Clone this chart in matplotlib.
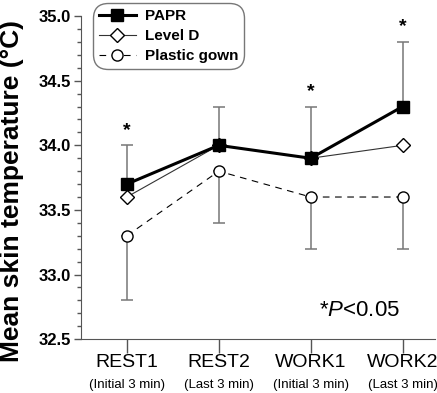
import numpy as np
import matplotlib.pyplot as plt
from matplotlib.ticker import MultipleLocator
import matplotlib.transforms as mtransforms

plt.rcParams["font.family"] = ["Liberation Sans", "DejaVu Sans"]
plt.rcParams["mathtext.fontset"] = "custom"
plt.rcParams["mathtext.it"] = "Liberation Sans:italic"
plt.rcParams["mathtext.rm"] = "Liberation Sans"

phases = ["REST1", "REST2", "WORK1", "WORK2"]
sub_labels = ["(Initial 3 min)", "(Last 3 min)", "(Initial 3 min)", "(Last 3 min)"]
papr = [33.7, 34.0, 33.9, 34.3]
papr_sd = [0.3, 0.3, 0.4, 0.5]
level_d = [33.6, 34.0, 33.9, 34.0]
gown = [33.3, 33.8, 33.6, 33.6]
gown_sd = [0.5, 0.4, 0.4, 0.4]
star_pos = [0, 2, 3]

x = np.arange(len(phases))

fig = plt.figure(figsize=(4.37, 3.93), dpi=100)
ax = fig.add_axes([0.185, 0.137, 0.81, 0.822])

# error bars: PAPR upward, gown downward
ax.errorbar(x, papr, yerr=[np.zeros(4), papr_sd], fmt="none", ecolor="#777777",
            elinewidth=1.1, capsize=4, capthick=1.1, zorder=1)
ax.errorbar(x, gown, yerr=[gown_sd, np.zeros(4)], fmt="none", ecolor="#777777",
            elinewidth=1.1, capsize=4, capthick=1.1, zorder=1)

ax.plot(x, gown, "--", color="black", lw=0.8, dashes=(6, 5), marker="o", ms=8,
        mfc="white", mec="black", mew=1.0, label="Plastic gown", zorder=2)
ax.plot(x, level_d, "-", color="#333333", lw=0.8, marker="D", ms=7,
        mfc="white", mec="black", mew=1.0, label="Level D", zorder=3)
ax.plot(x, papr, "-", color="black", lw=2.2, marker="s", ms=9,
        mfc="black", mec="black", label="PAPR", zorder=4)

for i in star_pos:
    ax.text(x[i], papr[i] + papr_sd[i] + 0.05, "*", ha="center", va="bottom",
            fontsize=14, fontweight="bold")

ax.text(2.53, 32.72, "*$\\it{P}$<0.05", ha="center", va="center", fontsize=16)

ax.set_xlim(-0.5, 3.35)
ax.set_ylim(32.5, 35.0)
ax.yaxis.set_minor_locator(MultipleLocator(0.1))
ax.set_yticks([32.5, 33.0, 33.5, 34.0, 34.5, 35.0])
ax.set_yticklabels(["32.5", "33.0", "33.5", "34.0", "34.5", "35.0"],
                   fontsize=12, fontweight="bold")
ax.set_xticks(x)
ax.set_xticklabels(phases, fontsize=14)
ax.tick_params(axis="x", length=10, width=1, color="#555555", pad=1)
ax.tick_params(axis="y", which="major", length=5, width=1, color="#555555", pad=2)
ax.tick_params(axis="y", which="minor", length=3, width=1, color="#555555")

trans = mtransforms.blended_transform_factory(ax.transData, ax.transAxes)
for xi, s in zip(x, sub_labels):
    ax.text(xi, -0.143, s, transform=trans, ha="center", va="center", fontsize=9.5)

for side in ["top", "right"]:
    ax.spines[side].set_visible(False)
for side in ["left", "bottom"]:
    ax.spines[side].set_color("#555555")

ax.set_ylabel("Mean skin temperature (°C)", fontsize=19, fontweight="bold")
ax.yaxis.set_label_coords(-0.16, 0.46)

handles, labels = ax.get_legend_handles_labels()
leg = ax.legend(handles[::-1], labels[::-1], loc="upper left",
                bbox_to_anchor=(0.012, 1.065), frameon=True, fancybox=True,
                prop={"weight": "bold", "size": 11}, handlelength=2.4,
                borderpad=0.4, labelspacing=0.4, handletextpad=0.6)
leg.get_frame().set_edgecolor("#555555")
leg.get_frame().set_linewidth(1.0)
leg.get_frame().set_boxstyle("round", pad=0.0, rounding_size=1.0)

fig.savefig("out.png", dpi=100)
